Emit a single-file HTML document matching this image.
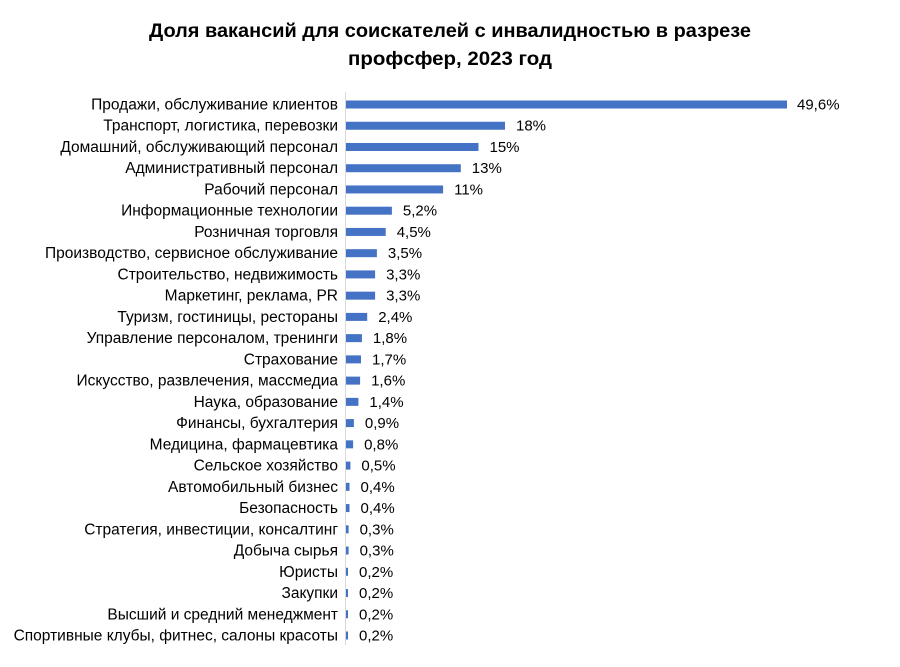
<!DOCTYPE html>
<html><head><meta charset="utf-8"><style>
html,body{margin:0;padding:0;background:#fff;}
svg{display:block;font-family:"Liberation Sans",Arial,sans-serif;}
</style></head><body>
<svg width="900" height="667" viewBox="0 0 900 667" xmlns="http://www.w3.org/2000/svg">
<text x="450" y="37" text-anchor="middle" font-size="19" font-weight="bold" fill="#000" textLength="602" lengthAdjust="spacingAndGlyphs">Доля вакансий  для соискателей с инвалидностью в разрезе</text>
<text x="450" y="65" text-anchor="middle" font-size="19" font-weight="bold" fill="#000" textLength="204" lengthAdjust="spacingAndGlyphs">профсфер, 2023 год</text>
<line x1="345.5" y1="92" x2="345.5" y2="645" stroke="#d9d9d9" stroke-width="1"/>
<g font-size="15" fill="#000">
<g text-anchor="end" font-size="15.5">
<text x="338" y="109.5">Продажи, обслуживание клиентов</text>
<text x="338" y="130.74">Транспорт, логистика, перевозки</text>
<text x="338" y="151.98">Домашний, обслуживающий персонал</text>
<text x="338" y="173.22">Административный персонал</text>
<text x="338" y="194.46">Рабочий персонал</text>
<text x="338" y="215.7">Информационные технологии</text>
<text x="338" y="236.94">Розничная торговля</text>
<text x="338" y="258.18">Производство, сервисное обслуживание</text>
<text x="338" y="279.42">Строительство, недвижимость</text>
<text x="338" y="300.66">Маркетинг, реклама, PR</text>
<text x="338" y="321.9">Туризм, гостиницы, рестораны</text>
<text x="338" y="343.14">Управление персоналом, тренинги</text>
<text x="338" y="364.38">Страхование</text>
<text x="338" y="385.62">Искусство, развлечения, массмедиа</text>
<text x="338" y="406.86">Наука, образование</text>
<text x="338" y="428.1">Финансы, бухгалтерия</text>
<text x="338" y="449.34">Медицина, фармацевтика</text>
<text x="338" y="470.58">Сельское хозяйство</text>
<text x="338" y="491.82">Автомобильный бизнес</text>
<text x="338" y="513.06">Безопасность</text>
<text x="338" y="534.3">Стратегия, инвестиции, консалтинг</text>
<text x="338" y="555.54">Добыча сырья</text>
<text x="338" y="576.78">Юристы</text>
<text x="338" y="598.02">Закупки</text>
<text x="338" y="619.26">Высший и средний менеджмент</text>
<text x="338" y="640.5">Спортивные клубы, фитнес, салоны красоты</text>
</g>
<g fill="#4472c4">
<rect x="346" y="100.5" width="441" height="8"/>
<rect x="346" y="121.74" width="159" height="8"/>
<rect x="346" y="142.98" width="132.5" height="8"/>
<rect x="346" y="164.22" width="114.8" height="8"/>
<rect x="346" y="185.46" width="97.1" height="8"/>
<rect x="346" y="206.7" width="45.9" height="8"/>
<rect x="346" y="227.94" width="39.7" height="8"/>
<rect x="346" y="249.18" width="30.9" height="8"/>
<rect x="346" y="270.42" width="29.1" height="8"/>
<rect x="346" y="291.66" width="29.1" height="8"/>
<rect x="346" y="312.9" width="21.2" height="8"/>
<rect x="346" y="334.14" width="15.9" height="8"/>
<rect x="346" y="355.38" width="15" height="8"/>
<rect x="346" y="376.62" width="14.1" height="8"/>
<rect x="346" y="397.86" width="12.4" height="8"/>
<rect x="346" y="419.1" width="7.9" height="8"/>
<rect x="346" y="440.34" width="7.1" height="8"/>
<rect x="346" y="461.58" width="4.4" height="8"/>
<rect x="346" y="482.82" width="3.5" height="8"/>
<rect x="346" y="504.06" width="3.5" height="8"/>
<rect x="346" y="525.3" width="2.6" height="8"/>
<rect x="346" y="546.54" width="2.6" height="8"/>
<rect x="346" y="567.78" width="2" height="8"/>
<rect x="346" y="589.02" width="2" height="8"/>
<rect x="346" y="610.26" width="2" height="8"/>
<rect x="346" y="631.5" width="2" height="8"/>
</g>
<text x="797" y="109.5">49,6%</text>
<text x="516" y="130.74">18%</text>
<text x="489.5" y="151.98">15%</text>
<text x="471.8" y="173.22">13%</text>
<text x="454.1" y="194.46">11%</text>
<text x="402.9" y="215.7">5,2%</text>
<text x="396.7" y="236.94">4,5%</text>
<text x="387.9" y="258.18">3,5%</text>
<text x="386.1" y="279.42">3,3%</text>
<text x="386.1" y="300.66">3,3%</text>
<text x="378.2" y="321.9">2,4%</text>
<text x="372.9" y="343.14">1,8%</text>
<text x="372" y="364.38">1,7%</text>
<text x="371.1" y="385.62">1,6%</text>
<text x="369.4" y="406.86">1,4%</text>
<text x="364.9" y="428.1">0,9%</text>
<text x="364.1" y="449.34">0,8%</text>
<text x="361.4" y="470.58">0,5%</text>
<text x="360.5" y="491.82">0,4%</text>
<text x="360.5" y="513.06">0,4%</text>
<text x="359.6" y="534.3">0,3%</text>
<text x="359.6" y="555.54">0,3%</text>
<text x="359" y="576.78">0,2%</text>
<text x="359" y="598.02">0,2%</text>
<text x="359" y="619.26">0,2%</text>
<text x="359" y="640.5">0,2%</text>
</g>
</svg>
</body></html>
